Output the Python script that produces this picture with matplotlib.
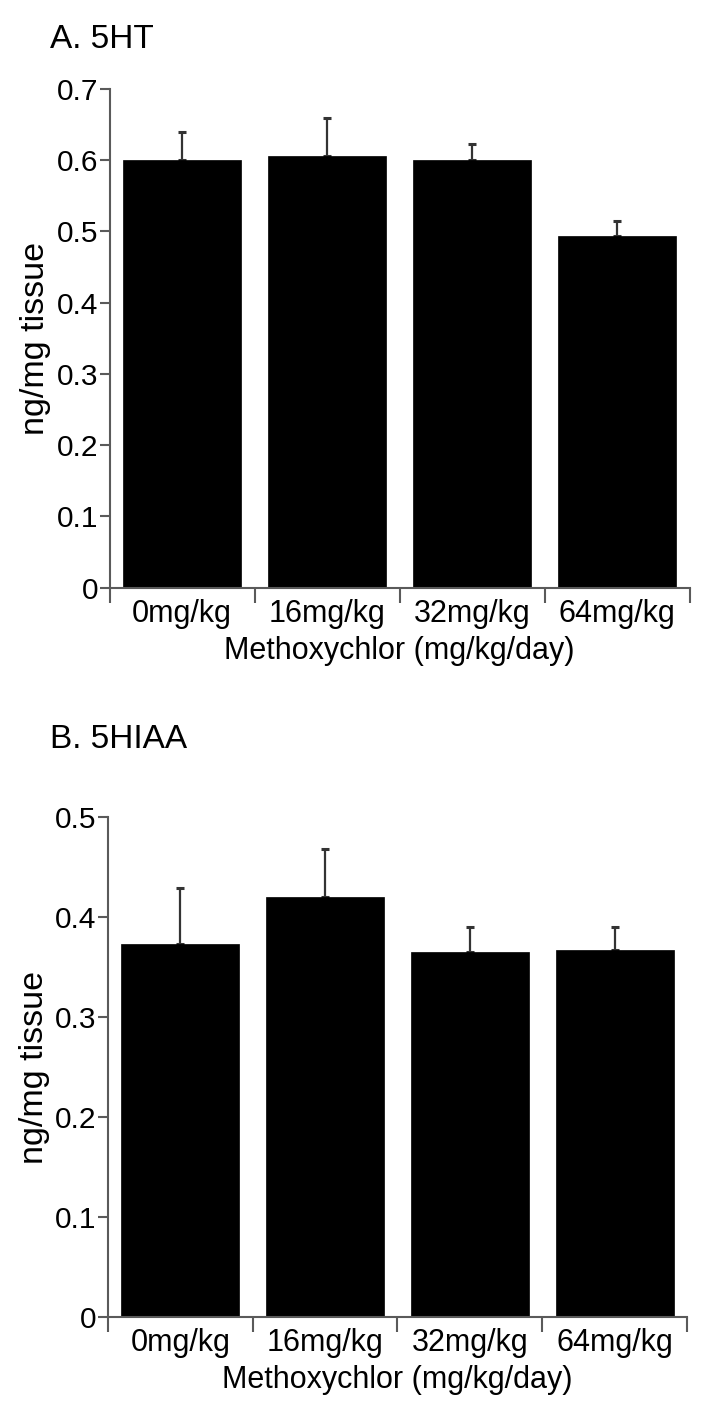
import matplotlib
matplotlib.use("Agg")
import matplotlib.pyplot as plt
import numpy as np

plt.rcParams['font.family'] = ['Liberation Sans', 'DejaVu Sans']

categories = ["0mg/kg", "16mg/kg", "32mg/kg", "64mg/kg"]

ht_mean = [0.600, 0.605, 0.600, 0.493]
ht_err = [0.039, 0.054, 0.023, 0.022]

hiaa_mean = [0.373, 0.420, 0.365, 0.367]
hiaa_err = [0.056, 0.048, 0.025, 0.023]

xlabel = "Methoxychlor (mg/kg/day)"
ylabel = "ng/mg tissue"

W, H = 716, 1408
fig = plt.figure(figsize=(W / 100, H / 100), dpi=100)

spine_col = "#5a5a5a"


def panel(rect, means, errs, ymax, title, title_y):
    ax = fig.add_axes(rect)
    x = np.arange(len(categories))
    ax.bar(x, means, width=0.815, color="black", edgecolor="black", linewidth=0.5, zorder=2)
    ax.errorbar(x, means, yerr=[np.zeros(len(errs)), errs], fmt="none",
                ecolor="#333333", elinewidth=1.6, capsize=3, capthick=2.2, zorder=1)
    ax.set_xlim(-0.5, len(categories) - 0.5)
    ax.set_ylim(0, ymax)
    ax.set_yticks(np.round(np.arange(0, ymax + 0.001, 0.1), 1))
    ax.set_yticklabels(["0"] + [f"{v:.1f}" for v in np.arange(0.1, ymax + 0.001, 0.1)])
    ax.set_xticks(x)
    ax.set_xticklabels(categories)
    ax.set_xticks(np.arange(-0.5, len(categories), 1.0), minor=True)
    ax.tick_params(axis="x", which="major", length=0, pad=8, labelsize=22)
    ax.tick_params(axis="x", which="minor", length=11, width=1.5, color=spine_col, direction="out")
    ax.tick_params(axis="y", length=7, width=1.5, color=spine_col, labelsize=21.5, pad=1)
    for s in ["top", "right"]:
        ax.spines[s].set_visible(False)
    for s in ["left", "bottom"]:
        ax.spines[s].set_color(spine_col)
        ax.spines[s].set_linewidth(1.5)
    ax.set_xlabel(xlabel, fontsize=22, labelpad=5)
    ax.set_ylabel(ylabel, fontsize=24.5, labelpad=4)
    fig.text(50 / W, 1 - title_y / H, title, fontsize=24, ha="left", va="center")
    return ax


panel([109.6 / W, 1 - 587.7 / H, (689.5 - 109.6) / W, (587.7 - 88.7) / H],
      ht_mean, ht_err, 0.7, "A. 5HT", 40)
panel([107.8 / W, 1 - 1317.3 / H, (687 - 107.8) / W, (1317.3 - 817) / H],
      hiaa_mean, hiaa_err, 0.5, "B. 5HIAA", 740)

fig.savefig("out.png", dpi=100)
